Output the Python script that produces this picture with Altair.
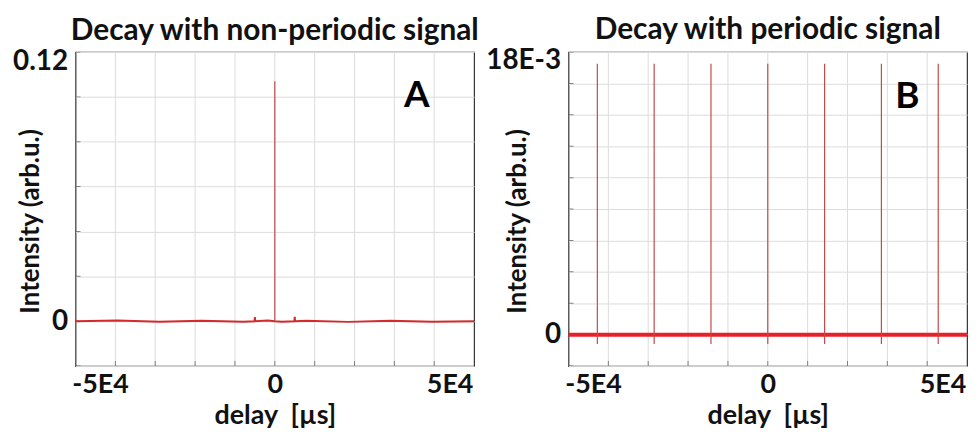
import altair as alt
import pandas as pd

FONT = "Lato"

# ---------------- data ----------------
x_domain = [-57000, 57000]
x_grid = [-45600, -34200, -22800, -11400, 0, 11400, 22800, 34200, 45600]
x_tick_values = [-50000, 0, 50000]
x_tick_labels = ["-5E4", "0", "5E4"]
x_title = "delay\u00a0 [µs]"
y_title = "Intensity (arb.u.)"

# Panel A: non-periodic signal
a_title = "Decay with non-periodic signal"
a_y_domain = [-0.02, 0.12]
a_y_grid = [-0.02, 0.0, 0.02, 0.04, 0.06, 0.08, 0.10, 0.12]
a_y_tick_values = [0.0, 0.12]
a_y_tick_labels = ["0", "0.12"]
a_base_x = [-57000, -45000, -33000, -21000, -9000, -5800, -5700, -5600, -2000, 0,
            2000, 5600, 5700, 5800, 9000, 21000, 33000, 45000, 57000]
a_base_y = [0.0, 0.0003, -0.0002, 0.0002, -0.0002, 0.0, 0.0018, 0.0, 0.0003, 0.0,
            -0.0002, 0.0, 0.0020, 0.0, 0.0002, -0.0003, 0.0002, -0.0002, 0.0]
a_spike_x = [0]
a_spike_top = [0.107]
a_spike_bottom = [0.0]
a_letter = ["A"]
a_letter_x = [40600]
a_letter_y = [0.1002]

# Panel B: periodic signal
b_title = "Decay with periodic signal"
b_y_domain = [-0.002, 0.018]
b_y_grid = [-0.002, 0.0, 0.002, 0.004, 0.006, 0.008, 0.010, 0.012, 0.014, 0.016, 0.018]
b_y_tick_values = [0.0, 0.018]
b_y_tick_labels = ["0", "18E-3"]
b_base_x = [-57000, 57000]
b_base_y = [0.0, 0.0]
b_spike_x = [-48750, -32500, -16250, 0, 16250, 32500, 48750]
b_spike_top = [0.01725] * 7
b_spike_bottom = [-0.0006] * 7
b_letter = ["B"]
b_letter_x = [39900]
b_letter_y = [0.01514]


def label_expr(values, labels):
    expr = "''"
    for v, l in zip(values, labels):
        expr = f"abs(datum.value - ({v})) < 1e-9 ? '{l}' : ({expr})"
    return expr


def panel(title, y_domain, y_grid, y_tick_values, y_tick_labels, base_x, base_y,
          spike_x, spike_top, spike_bottom, letter, letter_x, letter_y,
          base_width, base_color, top_test, title_x, top_offset):
    xscale = alt.Scale(domain=x_domain, nice=False, zero=False)
    yscale = alt.Scale(domain=y_domain, nice=False, zero=False)
    xaxis = alt.Axis(values=x_tick_values, labelExpr=label_expr(x_tick_values, x_tick_labels),
                     grid=False, domain=False, ticks=False, labelPadding=6, labelFlush=False,
                     labelFontSize=27, labelFont=FONT, labelFontWeight="bold", labelColor="#111",
                     title=x_title, titleFontSize=27, titleFont=FONT, titleFontWeight="bold",
                     titleColor="#111", titlePadding=5)
    yaxis = alt.Axis(values=y_grid, labelExpr=label_expr(y_tick_values, y_tick_labels),
                     grid=True, gridColor="#dcdcdc", gridWidth=1, domain=False, ticks=False,
                     labelPadding=8, labelFontSize=28, labelFont=FONT, labelFontWeight="bold",
                     labelColor="#111",
                     labelOffset={"condition": {"test": top_test, "value": top_offset}, "value": 0},
                     title=y_title, titleFontSize=26, titleFont=FONT,
                     titleFontWeight="bold", titleColor="#111", titleX=title_x, titleY=170)

    X = lambda f: alt.X(f, scale=xscale, axis=xaxis)
    Y = lambda f: alt.Y(f, scale=yscale, axis=yaxis)

    grid = alt.Chart(pd.DataFrame({"gx": x_grid})).mark_rule(color="#dcdcdc", strokeWidth=1).encode(
        x=X("gx:Q"))
    xticks = alt.Chart(pd.DataFrame({"gx": x_grid, "gy": [y_domain[0]] * len(x_grid)})).mark_tick(
        color="#555", size=10, thickness=1, clip=True, orient="vertical").encode(
        x=X("gx:Q"), y=Y("gy:Q"))
    yticks = alt.Chart(pd.DataFrame({"gy": y_grid, "gx": [x_domain[0]] * len(y_grid)})).mark_tick(
        color="#555", size=10, thickness=1, clip=True, orient="horizontal").encode(
        x=X("gx:Q"), y=Y("gy:Q"))
    base = alt.Chart(pd.DataFrame({"x": base_x, "y": base_y})).mark_line(
        color=base_color, strokeWidth=base_width).encode(x=X("x:Q"), y=Y("y:Q"))
    spikes = alt.Chart(pd.DataFrame({"x": spike_x, "top": spike_top, "bottom": spike_bottom})).mark_rule(
        color="#c24a4a", strokeWidth=1.2).encode(x=X("x:Q"), y=Y("top:Q"), y2="bottom:Q")
    letters = alt.Chart(pd.DataFrame({"x": letter_x, "y": letter_y, "t": letter})).mark_text(
        font=FONT, fontSize=37, fontWeight="bold", color="#000").encode(
        x=X("x:Q"), y=Y("y:Q"), text="t:N")
    return alt.layer(grid, xticks, yticks, base, spikes, letters).properties(
        width=401, height=316,
        title=alt.TitleParams(title, fontSize=30, font=FONT, fontWeight="bold", color="#111",
                              anchor="middle", offset=2))


left = panel(a_title, a_y_domain, a_y_grid, a_y_tick_values, a_y_tick_labels, a_base_x, a_base_y,
             a_spike_x, a_spike_top, a_spike_bottom, a_letter, a_letter_x, a_letter_y,
             2.0, "#d42a2a", "datum.value > 0.1", -32, 10)
right = panel(b_title, b_y_domain, b_y_grid, b_y_tick_values, b_y_tick_labels, b_base_x, b_base_y,
              b_spike_x, b_spike_top, b_spike_bottom, b_letter, b_letter_x, b_letter_y,
              4.0, "#e8202a", "datum.value > 0.015", -38, 9)

chart = alt.hconcat(left, right, spacing=95, bounds="flush").properties(
    padding={"left": 12, "top": 13, "right": 0, "bottom": 0}
).configure(background="white").configure_view(stroke="#333333", strokeWidth=1.2)

chart.save("out.html", embed_options={"renderer": "svg", "actions": False})
